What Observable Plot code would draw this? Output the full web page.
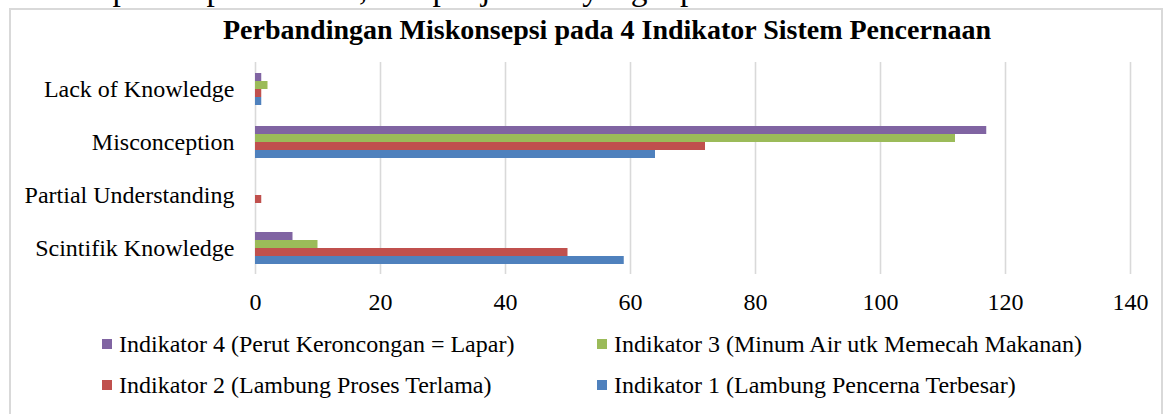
<!DOCTYPE html>
<html><head><meta charset="utf-8">
<script src="https://cdn.jsdelivr.net/npm/d3@7"></script>
<script src="https://cdn.jsdelivr.net/npm/@observablehq/plot@0.6"></script>
<style>
html,body{margin:0;padding:0;background:#fff;overflow:hidden}
body{width:1165px;height:414px;position:relative;font-family:"Liberation Serif","Times New Roman",serif;color:#000}
#above{position:absolute;left:0;top:-31px;font-size:33.5px;white-space:nowrap;line-height:40px;z-index:0}
#box{position:absolute;left:9px;top:8px;width:1154px;height:430px;border:2px solid #d9d9d9;box-sizing:border-box;background:#fff;z-index:1}
#title{position:absolute;left:0;top:14px;width:1214px;text-align:center;font-weight:bold;font-size:28px;line-height:32px;z-index:2}
#chart{position:absolute;left:0;top:0;z-index:2}
#legend{position:absolute;left:102px;top:329px;display:grid;grid-template-columns:495px auto;row-gap:11px;font-size:24px;line-height:30px;z-index:2}
.item{display:flex;align-items:center;white-space:nowrap}
.sw{width:10px;height:10px;margin-right:7px;flex:none}
</style></head>
<body>
<div id="above">animasi proses pencernaan, dan penjelasan yang tepat.</div>
<div id="box"></div>
<div id="title">Perbandingan Miskonsepsi pada 4 Indikator Sistem Pencernaan</div>
<div id="chart"></div>
<div id="legend"></div>
<script>
const categories = ["Lack of Knowledge", "Misconception", "Partial Understanding", "Scintifik Knowledge"];
const seriesNames = [
  "Indikator 4 (Perut Keroncongan = Lapar)",
  "Indikator 3 (Minum Air utk Memecah Makanan)",
  "Indikator 2 (Lambung Proses Terlama)",
  "Indikator 1 (Lambung Pencerna Terbesar)"
];
const seriesColors = ["#8064A2", "#9BBB59", "#C0504D", "#4F81BD"];
const indikator4 = [1, 117, 0, 6];
const indikator3 = [2, 112, 0, 10];
const indikator2 = [1, 72, 1, 50];
const indikator1 = [1, 64, 0, 59];
const xTicks = [0, 20, 40, 60, 80, 100, 120, 140];

const seriesValues = [indikator4, indikator3, indikator2, indikator1];
const rows = categories.flatMap((c, i) =>
  seriesNames.map((s, j) => ({category: c, series: s, value: seriesValues[j][i]}))
);

const chart = Plot.plot({
  width: 1165,
  height: 320,
  marginLeft: 255,
  marginRight: 35,
  marginTop: 60,
  marginBottom: 45,
  style: {fontFamily: '"Liberation Serif", "Times New Roman", serif', fontSize: "24px", background: "transparent", color: "#000", overflow: "visible"},
  x: {domain: [0, 140], ticks: xTicks, tickSize: 0, tickPadding: 18, label: null},
  y: {domain: seriesNames, axis: null, paddingInner: 0, paddingOuter: 1.057},
  fy: {domain: categories, padding: 0, axis: "left", label: null, tickSize: 0, tickPadding: 21},
  color: {domain: seriesNames, range: seriesColors},
  marks: [
    Plot.gridX({ticks: xTicks, stroke: "#d9d9d9", strokeOpacity: 1, strokeWidth: 1.6}),
    Plot.barX(rows, {x: "value", y: "series", fy: "category", fill: "series"})
  ]
});
document.getElementById("chart").appendChild(chart);

const legend = document.getElementById("legend");
seriesNames.forEach((s, i) => {
  const item = document.createElement("div");
  item.className = "item";
  const sw = document.createElement("span");
  sw.className = "sw";
  sw.style.background = seriesColors[i];
  const t = document.createElement("span");
  t.textContent = s;
  item.appendChild(sw);
  item.appendChild(t);
  legend.appendChild(item);
});
</script>
</body></html>
